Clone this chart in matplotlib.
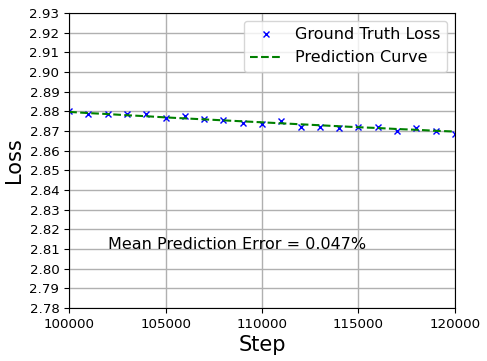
import matplotlib
matplotlib.use("Agg")
import matplotlib.pyplot as plt

steps = [100000, 101000, 102000, 103000, 104000, 105000, 106000, 107000, 108000, 109000,
         110000, 111000, 112000, 113000, 114000, 115000, 116000, 117000, 118000, 119000, 120000]
gt_loss = [2.8803, 2.8786, 2.8787, 2.8787, 2.8786, 2.8767, 2.8777, 2.8762, 2.8757, 2.8738,
           2.8733, 2.8752, 2.8721, 2.8721, 2.8713, 2.8718, 2.8718, 2.8699, 2.8713, 2.8701, 2.8684]
pred_loss = [2.8797, 2.8791, 2.8786, 2.8780, 2.8775, 2.8769, 2.8764, 2.8759, 2.8754, 2.8749,
             2.8744, 2.8739, 2.8734, 2.8729, 2.8724, 2.8719, 2.8715, 2.8710, 2.8706, 2.8701, 2.8697]
yticks = [2.78, 2.79, 2.80, 2.81, 2.82, 2.83, 2.84, 2.85, 2.86, 2.87, 2.88, 2.89, 2.90, 2.91, 2.92, 2.93]
xticks = [100000, 105000, 110000, 115000, 120000]
error_text = "Mean Prediction Error = 0.047%"

fig = plt.figure(figsize=(4.87, 3.61), dpi=100)
ax = fig.add_axes([0.142, 0.147, 0.792, 0.817])
ax.plot(steps, gt_loss, 'x', color='blue', markersize=4, label='Ground Truth Loss')
ax.plot(steps, pred_loss, '--', color='green', linewidth=1.5, label='Prediction Curve')
ax.set_xlim(100000, 120000)
ax.set_ylim(2.78, 2.93)
ax.set_xticks(xticks)
ax.set_xticklabels([str(t) for t in xticks])
ax.set_yticks(yticks)
ax.set_yticklabels([f"{t:.2f}" for t in yticks])
ax.tick_params(labelsize=9.6)
ax.grid(True, color='#b0b0b0', linewidth=1.0)
ax.set_xlabel('Step', fontsize=15, labelpad=3)
ax.set_ylabel('Loss', fontsize=15)
ax.legend(loc='upper right', fontsize=11.5)
ax.text(0.1, 0.2, error_text, transform=ax.transAxes, fontsize=11.5)
fig.savefig('out.png', dpi=100)
